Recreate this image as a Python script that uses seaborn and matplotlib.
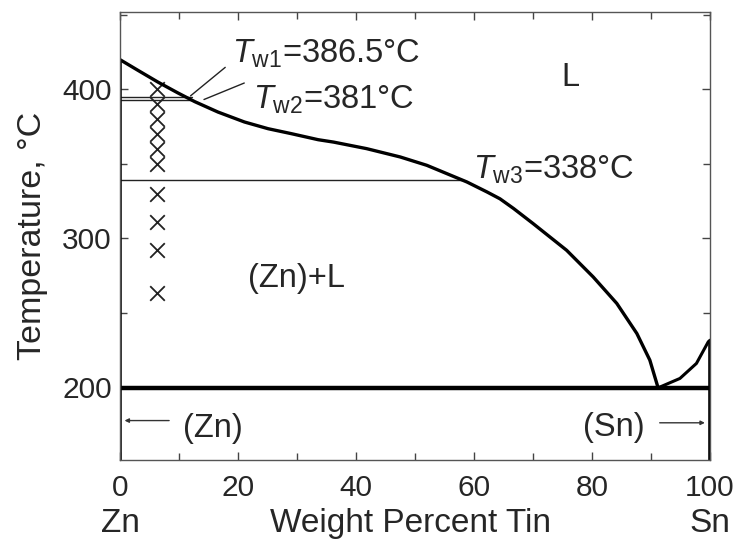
import numpy as np
import pandas as pd
import seaborn as sns
import matplotlib.pyplot as plt

# liquidus (wt% Sn, degC)
liq_x = [0, 3.05, 6.44, 9.83, 12.66, 16.6, 21.1, 25.1, 29.0, 33.6, 36.2, 41.8, 47.5, 52.0,
         55.4, 58.8, 62.2, 64.4, 66.7, 70.0, 75.7, 80.2, 84.2, 87.6, 89.8, 91.2]
liq_t = [420, 412.8, 404.9, 397.6, 391.8, 384.8, 378.1, 373.6, 370.3, 366.2, 364.6, 360.2,
         354.6, 349.0, 343.4, 337.8, 331.1, 326.5, 320.0, 309.9, 291.9, 274.0, 256.2, 236.0, 218.1, 199.5]
sn_x = [91.2, 94.9, 97.7, 99.7, 100]
sn_t = [199.5, 205.8, 215.9, 230.4, 231.5]
eutectic_t = 199.3

# measured sample points
meas_x = [6.3] * 10
meas_t = [400, 390, 380, 370, 360, 350, 330, 311, 292, 263]

# Tw lines (where they are drawn) and their labels
tw_levels = [395, 392.6, 339]
tw_ends = [12.2, 12.2, 58]
tw_labels = [r'$T_{\rm w1}$=386.5°C', r'$T_{\rm w2}$=381°C', r'$T_{\rm w3}$=338°C']

sns.set_style("ticks")
plt.rcParams['font.family'] = ['Liberation Sans', 'DejaVu Sans']
plt.rcParams['mathtext.fontset'] = 'custom'
plt.rcParams['mathtext.rm'] = 'Liberation Sans'
plt.rcParams['mathtext.it'] = 'Liberation Sans:italic'

fig = plt.figure(figsize=(7.42, 5.46), dpi=100)
ax = fig.add_axes([0.1617, 0.1575, 0.7952, 0.8205])

fs = 23.5    # annotations
fs_tick = 21.5
fs_lab = 24

# Tw horizontal lines
for lvl, end in zip(tw_levels, tw_ends):
    ax.plot([0, end], [lvl, lvl], color='#222222', lw=1.0)

# liquidus curves
sns.lineplot(x=liq_x, y=liq_t, ax=ax, color='black', lw=2.4, sort=False, estimator=None,
             solid_joinstyle='round')
sns.lineplot(x=sn_x, y=sn_t, ax=ax, color='black', lw=2.2, sort=False, estimator=None,
             solid_joinstyle='round')

# eutectic line and pure-element verticals
ax.plot([0, 100], [eutectic_t, eutectic_t], color='black', lw=3.2)
ax.plot([0, 0], [150, liq_t[0]], color='black', lw=2.6, solid_capstyle='butt')
ax.plot([100, 100], [150, sn_t[-1]], color='black', lw=2.6, solid_capstyle='butt')

# measured points
df = pd.DataFrame({'x': meas_x, 't': meas_t})
sns.scatterplot(data=df, x='x', y='t', ax=ax, marker='x', s=110, color='#222222', linewidth=1.3)

# labels
ax.text(19.0, 424, tw_labels[0], fontsize=fs, va='center', ha='left')
ax.text(22.6, 393, tw_labels[1], fontsize=fs, va='center', ha='left')
ax.text(59.8, 346, tw_labels[2], fontsize=fs, va='center', ha='left')
ax.annotate('', xy=(11.6, 394.5), xytext=(18.2, 416),
            arrowprops=dict(arrowstyle='-', color='#222222', lw=1.0))
ax.annotate('', xy=(13.8, 392.5), xytext=(21.5, 405),
            arrowprops=dict(arrowstyle='-', color='#222222', lw=1.0))

ax.text(76.3, 408, 'L', fontsize=fs, ha='center', va='center')
ax.text(30, 273, '(Zn)+L', fontsize=fs, ha='center', va='center')
ax.text(15.8, 172, '(Zn)', fontsize=fs, ha='center', va='center')
ax.text(83.7, 173, '(Sn)', fontsize=fs, ha='center', va='center')
ax.annotate('', xy=(0.3, 177.5), xytext=(8.8, 177.5),
            arrowprops=dict(arrowstyle='-|>', color='#333333', lw=1.0, mutation_scale=6))
ax.annotate('', xy=(99.6, 176), xytext=(91, 176),
            arrowprops=dict(arrowstyle='-|>', color='#333333', lw=1.0, mutation_scale=6))

ax.set_xlim(0, 100)
ax.set_ylim(151, 452)
ax.set_xticks([0, 20, 40, 60, 80, 100])
ax.set_xticks([10, 30, 50, 70, 90], minor=True)
ax.set_yticks([200, 300, 400])
ax.set_yticks([250, 350, 450], minor=True)
ax.tick_params(which='both', direction='in', top=True, right=True, labelsize=fs_tick,
               color='#444444', width=1.0)
ax.tick_params(which='major', length=6)
ax.tick_params(axis='x', which='major', pad=10)
ax.tick_params(axis='y', which='major', pad=6)
ax.tick_params(which='minor', length=5)
for s in ax.spines.values():
    s.set_color('#555555')
    s.set_linewidth(1.0)

ax.set_xlabel('')
ax.set_ylabel('Temperature, °C', fontsize=fs_lab + 0.5)
ax.yaxis.set_label_coords(-0.122, 0.5)
trans = ax.get_xaxis_transform()
ax.text(49.3, -0.142, 'Weight Percent Tin', transform=trans, fontsize=fs_lab, ha='center', va='center')
ax.text(0, -0.142, 'Zn', transform=trans, fontsize=fs_lab, ha='center', va='center')
ax.text(100, -0.142, 'Sn', transform=trans, fontsize=fs_lab, ha='center', va='center')

fig.savefig('out.png', dpi=100)
